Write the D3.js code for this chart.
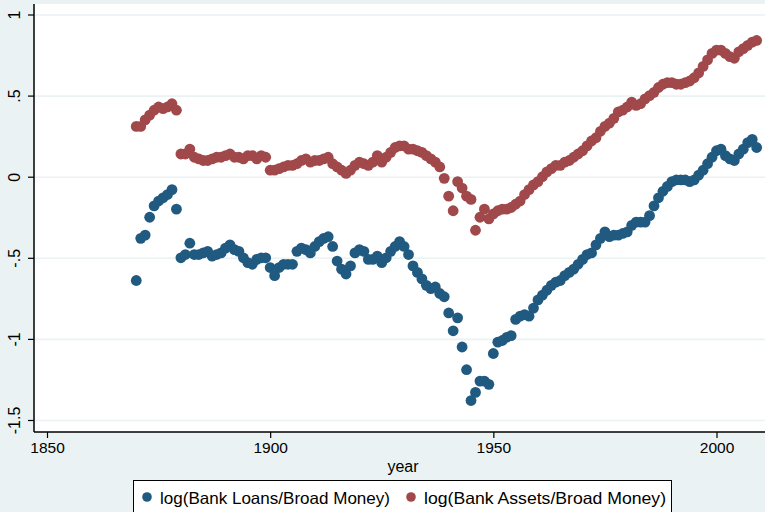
<!DOCTYPE html>
<html>
<head>
<meta charset="utf-8">
<script src="https://cdn.jsdelivr.net/npm/d3@7"></script>
<style>
  body { margin: 0; background: #eaf2f3; }
  svg text { font-family: "Liberation Sans", Arial, sans-serif; fill: #000; }
</style>
</head>
<body>
<div class="scatter-chart"></div>
<script>
// annual observations, 1870 .. 2009
const firstYear = 1870;
const lastYear = 2009;

const bankLoans = [
  -0.64, -0.38, -0.36, -0.25, -0.18, -0.15, -0.13, -0.11, -0.08, -0.20,
  -0.50, -0.48, -0.41, -0.48, -0.48, -0.47, -0.46, -0.49, -0.48, -0.47,
  -0.44, -0.42, -0.45, -0.46, -0.50, -0.53, -0.54, -0.51, -0.50, -0.50,
  -0.56, -0.61, -0.56, -0.54, -0.54, -0.54, -0.46, -0.44, -0.45, -0.47,
  -0.43, -0.40, -0.38, -0.37, -0.43, -0.52, -0.57, -0.60, -0.55, -0.47,
  -0.45, -0.46, -0.51, -0.51, -0.49, -0.53, -0.50, -0.46, -0.43, -0.40,
  -0.43, -0.48, -0.55, -0.59, -0.63, -0.67, -0.69, -0.68, -0.72, -0.74,
  -0.84, -0.95, -0.87, -1.05, -1.19, -1.38, -1.33, -1.26, -1.26, -1.28,
  -1.09, -1.02, -1.01, -0.99, -0.98, -0.88, -0.86, -0.85, -0.86, -0.81,
  -0.76, -0.73, -0.70, -0.67, -0.65, -0.64, -0.61, -0.59, -0.57, -0.54,
  -0.51, -0.48, -0.47, -0.42, -0.38, -0.34, -0.37, -0.36, -0.36, -0.35,
  -0.34, -0.30, -0.28, -0.28, -0.28, -0.24, -0.18, -0.13, -0.09, -0.06,
  -0.03, -0.02, -0.02, -0.02, -0.03, -0.02, 0.01, 0.04, 0.08, 0.12,
  0.16, 0.17, 0.13, 0.11, 0.10, 0.14, 0.17, 0.21, 0.23, 0.18
];

const bankAssets = [
  0.31, 0.31, 0.35, 0.38, 0.41, 0.43, 0.42, 0.43, 0.45, 0.41,
  0.14, 0.14, 0.17, 0.12, 0.11, 0.10, 0.10, 0.11, 0.12, 0.12,
  0.13, 0.14, 0.12, 0.12, 0.11, 0.13, 0.13, 0.11, 0.13, 0.12,
  0.04, 0.04, 0.05, 0.06, 0.07, 0.07, 0.08, 0.10, 0.11, 0.09,
  0.10, 0.10, 0.11, 0.12, 0.08, 0.06, 0.04, 0.02, 0.04, 0.07,
  0.09, 0.08, 0.07, 0.09, 0.13, 0.09, 0.12, 0.15, 0.18, 0.19,
  0.19, 0.17, 0.17, 0.16, 0.15, 0.13, 0.11, 0.09, 0.06, -0.01,
  -0.12, -0.21, -0.03, -0.07, -0.12, -0.14, -0.33, -0.25, -0.20, -0.26,
  -0.23, -0.21, -0.20, -0.20, -0.19, -0.17, -0.15, -0.11, -0.08, -0.05,
  -0.03, 0.00, 0.03, 0.05, 0.07, 0.07, 0.09, 0.10, 0.12, 0.14,
  0.16, 0.19, 0.22, 0.24, 0.28, 0.31, 0.33, 0.36, 0.40, 0.41,
  0.43, 0.46, 0.44, 0.45, 0.48, 0.50, 0.52, 0.55, 0.57, 0.58,
  0.58, 0.57, 0.57, 0.58, 0.59, 0.61, 0.64, 0.68, 0.72, 0.76,
  0.78, 0.78, 0.76, 0.74, 0.73, 0.77, 0.79, 0.81, 0.83, 0.84
];

const xTicks = [1850, 1900, 1950, 2000];
const yTicks = [1, 0.5, 0, -0.5, -1, -1.5];
const yTickLabels = ["1", ".5", "0", "-.5", "-1", "-1.5"];
const seriesNames = ["log(Bank Loans/Broad Money)", "log(Bank Assets/Broad Money)"];
const seriesColors = ["#205a80", "#a0484a"];

const width = 765;
const height = 512;
const plotLeft = 34, plotTop = 4, plotBottom = 432;

const years = d3.range(firstYear, lastYear + 1);

const svg = d3.select(".scatter-chart")
  .append("svg")
  .attr("width", width)
  .attr("height", height);

const x = d3.scaleLinear().domain([1850, 2000]).range([47, 716.5]);
const y = d3.scaleLinear().domain([-1.5, 1]).range([420, 14.5]);

// white plot region
svg.append("rect")
  .attr("x", plotLeft)
  .attr("y", plotTop)
  .attr("width", width - plotLeft)
  .attr("height", plotBottom - plotTop)
  .attr("fill", "#fff");

// horizontal gridlines
svg.append("g")
  .attr("class", "grid")
  .attr("transform", "translate(" + plotLeft + ",0)")
  .call(d3.axisLeft(y).tickValues(yTicks).tickSize(-(width - plotLeft)).tickFormat(""))
  .call(g => g.select(".domain").remove())
  .call(g => g.selectAll("line").attr("stroke", "#eaf2f3").attr("stroke-width", 1.6));

// y axis
const yAxis = svg.append("g")
  .attr("transform", "translate(" + plotLeft + ",0)")
  .call(d3.axisLeft(y).tickValues(yTicks).tickSize(6).tickPadding(0)
    .tickFormat((d, i) => yTickLabels[i]))
  .call(g => g.select(".domain").remove());

yAxis.selectAll(".tick line").attr("stroke", "#000").attr("stroke-width", 1.2);
yAxis.selectAll(".tick text")
  .attr("x", 0).attr("dy", 0)
  .attr("text-anchor", "middle")
  .attr("transform", "translate(-14,0) rotate(-90)")
  .attr("font-size", 16)
  .attr("font-family", null);

svg.append("line")
  .attr("x1", plotLeft).attr("x2", plotLeft)
  .attr("y1", plotTop).attr("y2", plotBottom)
  .attr("stroke", "#000").attr("stroke-width", 1.5);

// x axis
const xAxis = svg.append("g")
  .attr("transform", "translate(0," + plotBottom + ")")
  .call(d3.axisBottom(x).tickValues(xTicks).tickSize(6).tickPadding(4).tickFormat(d3.format("d")))
  .call(g => g.select(".domain").remove());

xAxis.selectAll(".tick line").attr("stroke", "#000").attr("stroke-width", 1.2);
xAxis.selectAll(".tick text").attr("font-size", 15.5).attr("font-family", null);

svg.append("line")
  .attr("x1", plotLeft).attr("x2", width)
  .attr("y1", plotBottom).attr("y2", plotBottom)
  .attr("stroke", "#000").attr("stroke-width", 1.5);

svg.append("text")
  .attr("x", 403)
  .attr("y", 472)
  .attr("text-anchor", "middle")
  .attr("font-size", 16)
  .text("year");

// markers
const series = [bankLoans, bankAssets];
series.forEach((values, s) => {
  svg.append("g")
    .selectAll("circle")
    .data(years.map((yr, i) => ({ year: yr, value: values[i] })))
    .enter()
    .append("circle")
    .attr("cx", d => x(d.year))
    .attr("cy", d => y(d.value))
    .attr("r", 5.4)
    .attr("fill", seriesColors[s]);
});

// legend
const legend = svg.append("g");
legend.append("rect")
  .attr("x", 133.5).attr("y", 480.5)
  .attr("width", 538).attr("height", 40)
  .attr("fill", "#fff").attr("stroke", "#000").attr("stroke-width", 1);

const legendX = [147, 411];
const legendTextWidth = [230, 242];
seriesNames.forEach((name, i) => {
  legend.append("circle")
    .attr("cx", legendX[i]).attr("cy", 497)
    .attr("r", 4.8)
    .attr("fill", seriesColors[i]);
  legend.append("text")
    .attr("x", legendX[i] + 13).attr("y", 504)
    .attr("font-size", 16.5)
    .attr("textLength", legendTextWidth[i])
    .attr("lengthAdjust", "spacingAndGlyphs")
    .text(name);
});
</script>
</body>
</html>
